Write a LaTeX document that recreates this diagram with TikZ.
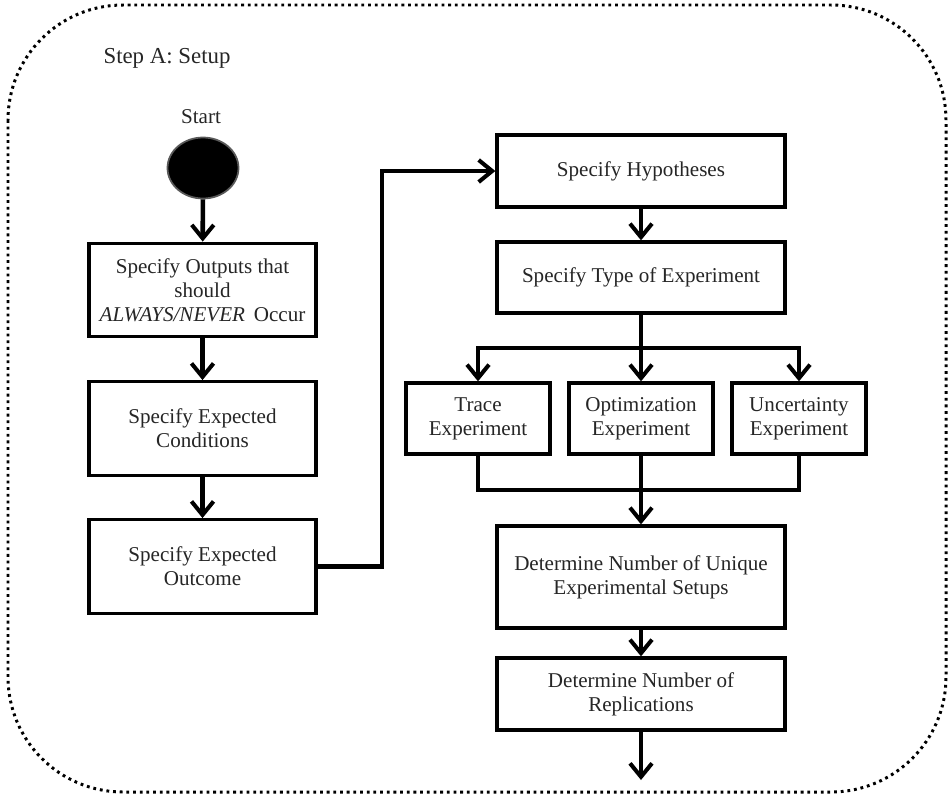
\documentclass[tikz,border=0pt]{standalone}
\usepackage{fontspec}
\setmainfont{Liberation Serif}
\usetikzlibrary{arrows.meta, positioning, shapes.geometric}

\begin{document}
\begin{tikzpicture}[
	x=0.02cm, y=-0.02cm,
	>={Straight Barb[length=2.7mm, width=4.4mm, line width=2.3pt]},
	stepbox/.style={
		draw=black, line width=1.9pt, fill=white, align=center,
		inner sep=2pt, minimum width=5.76cm, minimum height=1.44cm,
		text=black!85, font=\fontsize{12}{13.8}\selectfont
	},
	leftbox/.style={stepbox, minimum width=4.54cm, minimum height=1.87cm},
	kindbox/.style={stepbox, minimum width=2.88cm, minimum height=1.42cm},
	flow/.style={->, line width=2.6pt},
	link/.style={line width=2.6pt},
	labeltext/.style={text=black!85, font=\fontsize{12}{14}\selectfont}
	]
	\useasboundingbox (0,0) rectangle (950,795);
	
	% ==========================================
	% FRAME: Step A
	% ==========================================
	
	\draw[line width=1.7pt, dash pattern=on 1.6pt off 2.2pt, rounded corners=2.3cm]
	(8,5) rectangle (946,792);
	\node[labeltext, font=\fontsize{13}{15}\selectfont] (steplabel) at (167,58) {Step A: Setup};
	
	% ==========================================
	% LEFT COLUMN: Outputs and Conditions
	% ==========================================
	
	% Start point
	\node[labeltext] (startlabel) at (201,117) {Start};
	\node[ellipse, fill=black, draw=black!65, line width=1pt,
	minimum width=1.42cm, minimum height=1.22cm] (start) at (203,168) {};
	
	\node[leftbox] (outputs) at (202.5,290) {Specify Outputs that\\should\\\textit{ALWAYS/NEVER}\, Occur};
	\node[leftbox] (conditions) at (202.5,428.5) {Specify Expected\\Conditions};
	\node[leftbox] (outcome) at (202.5,566.5) {Specify Expected\\Outcome};
	
	\draw[flow] (start) -- (outputs);
	\draw[flow] (outputs) -- (conditions);
	\draw[flow] (conditions) -- (outcome);
	
	% ==========================================
	% RIGHT COLUMN: Hypotheses and Experiments
	% ==========================================
	
	\node[stepbox] (hypo) at (641,171) {Specify Hypotheses};
	\node[stepbox, minimum height=1.42cm] (exptype) at (641,277.5) {Specify Type of Experiment};
	
	% The three kinds of experiment
	\node[kindbox] (trace) at (478,418.5) {Trace\\Experiment};
	\node[kindbox] (optim) at (641,418.5) {Optimization\\Experiment};
	\node[kindbox, minimum width=2.68cm] (uncert) at (799,418.5) {Uncertainty\\Experiment};
	
	\node[stepbox, minimum height=2.04cm] (unique) at (641,577) {Determine Number of Unique\\Experimental Setups};
	\node[stepbox] (reps) at (641,694) {Determine Number of\\Replications};
	
	% Crossing from the left column to the right one
	\coordinate (bend) at (382,0);
	\draw[flow] (outcome.east) -- (outcome.east -| bend) |- (hypo.west);
	
	\draw[flow] (hypo) -- (exptype);
	
	% Split into the three kinds
	\coordinate (split) at (641,348);
	\draw[link] (exptype.south) -- (split);
	\draw[flow] (split) -| (trace.north);
	\draw[flow] (split) -- (optim.north);
	\draw[flow] (split) -| (uncert.north);
	
	% Merge back
	\coordinate (merge) at (641,490);
	\draw[link] (trace.south) |- (merge);
	\draw[link] (uncert.south) |- (merge);
	\draw[flow] (optim.south) -- (unique.north);
	
	\draw[flow] (unique) -- (reps);
	\coordinate (out) at (641,780);
	\draw[flow] (reps.south) -- (out);
\end{tikzpicture}
\end{document}
